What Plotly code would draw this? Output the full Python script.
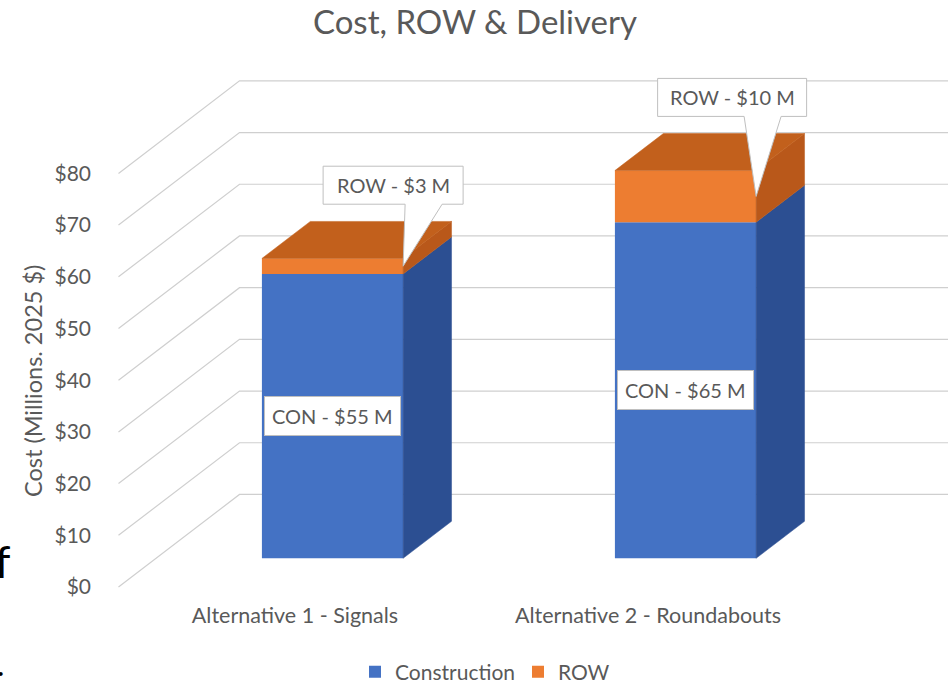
import plotly.graph_objects as go

# ---------------- data ----------------
categories = ["Alternative 1 - Signals", "Alternative 2 - Roundabouts"]
series_names = ["Construction", "ROW"]
construction = [55, 65]
row = [3, 10]
grid_values = [0, 10, 20, 30, 40, 50, 60, 70, 80]
tick_labels = ["$0", "$10", "$20", "$30", "$40", "$50", "$60", "$70", "$80"]
con_labels = ["CON - $55 M", "CON - $65 M"]
row_labels = ["ROW - $3 M", "ROW - $10 M"]

# ---------------- styling / geometry constants ----------------
W, H = 948, 683
M_L, M_R, M_T, M_B = 92, 0, 0, 83
PX_X0, PY_Y0 = 295.0, 587.0      # pixel of world origin (front plane)
PX_PER_X, PX_PER_Y = 353.0, 5.17  # pixels per unit
KX, KY = 0.3428, 17.9             # oblique offset per unit depth (x units, $)
D_FRONT, D_BACK = 0.31, 0.71      # bar depth span
HALF_W = 0.2                      # half bar width
WALL_LEFT, WALL_RIGHT = -0.5, 1.55

FONT = "Lato, Carlito, 'Open Sans', sans-serif"
TXT = "#595959"
GRID = "#CFCFCF"
C_FRONT = ["#4472C4", "#ED7D31"]
C_SIDE = ["#2C4F92", "#B9581A"]
C_TOP = "#C2601C"


def proj(x, y, d):
    return x + d * KX, y + d * KY


def px_to_dx(px):
    return px / PX_PER_X


def px_to_dy(px):
    return -px / PX_PER_Y


x_range = [(M_L - PX_X0) / PX_PER_X, (W - M_R - PX_X0) / PX_PER_X]
y_range = [(PY_Y0 - (H - M_B)) / PX_PER_Y, (PY_Y0 - M_T) / PX_PER_Y]

fig = go.Figure()

# ---------------- walls / gridlines ----------------
shapes = []
for v in grid_values:
    x0, y0 = proj(WALL_LEFT, v, 0)
    x1, y1 = proj(WALL_LEFT, v, 1)
    x2, y2 = proj(WALL_RIGHT, v, 1)
    shapes.append(dict(type="path", xref="x", yref="y", layer="below",
                       path=f"M {x0},{y0} L {x1},{y1} L {x2},{y2}",
                       line=dict(color=GRID, width=1.2)))

# ---------------- bars: front faces ----------------
stacks = [construction, row]
bases = [[0] * len(categories), construction]
for s, name in enumerate(series_names):
    xs = [proj(i, 0, D_FRONT)[0] for i in range(len(categories))]
    base = [proj(0, b, D_FRONT)[1] for b in bases[s]]
    fig.add_trace(go.Bar(
        x=xs, y=stacks[s], base=base, width=2 * HALF_W, name=name,
        marker=dict(color=C_FRONT[s], line=dict(width=0)),
        hoverinfo="skip"))

# ---------------- bars: side and top faces ----------------
for i in range(len(categories)):
    for s in range(len(series_names)):
        y0 = bases[s][i]
        y1 = y0 + stacks[s][i]
        pts = [proj(i + HALF_W, y0, D_FRONT), proj(i + HALF_W, y0, D_BACK),
               proj(i + HALF_W, y1, D_BACK), proj(i + HALF_W, y1, D_FRONT)]
        pts.append(pts[0])
        fig.add_trace(go.Scatter(
            x=[p[0] for p in pts], y=[p[1] for p in pts], mode="lines",
            fill="toself", fillcolor=C_SIDE[s], line=dict(width=0.5, color=C_SIDE[s]),
            showlegend=False, hoverinfo="skip"))
    top = construction[i] + row[i]
    pts = [proj(i - HALF_W, top, D_FRONT), proj(i - HALF_W, top, D_BACK),
           proj(i + HALF_W, top, D_BACK), proj(i + HALF_W, top, D_FRONT)]
    pts.append(pts[0])
    fig.add_trace(go.Scatter(
        x=[p[0] for p in pts], y=[p[1] for p in pts], mode="lines",
        fill="toself", fillcolor=C_TOP, line=dict(width=0.5, color=C_TOP),
        showlegend=False, hoverinfo="skip"))

annotations = []

# ---------------- CON data labels ----------------
for i in range(len(categories)):
    x, y = proj(i, construction[i] / 2, D_FRONT)
    annotations.append(dict(
        x=x, y=y, xref="x", yref="y", text=con_labels[i], showarrow=False,
        xanchor="center", yanchor="middle",
        font=dict(family=FONT, size=20, color=TXT),
        bgcolor="white", bordercolor="#BFBFBF", borderwidth=1, borderpad=7))

# ---------------- ROW callouts ----------------
callout_offsets = [(-10, -81), (-24, -99)]   # box centre relative to tip, px
callout_widths = [140, 149]
BOX_H = 38
WEDGE = (12, 49)
for i in range(len(categories)):
    tx, ty = proj(i + HALF_W, construction[i] + row[i] / 2, D_FRONT)
    cx = tx + px_to_dx(callout_offsets[i][0])
    cy = ty + px_to_dy(callout_offsets[i][1])
    hw = px_to_dx(callout_widths[i] / 2)
    hh = -px_to_dy(BOX_H / 2)
    xs = [cx - hw, cx + hw, cx + hw, cx + px_to_dx(WEDGE[1]), tx,
          cx + px_to_dx(WEDGE[0]), cx - hw, cx - hw]
    ys = [cy + hh, cy + hh, cy - hh, cy - hh, ty, cy - hh, cy - hh, cy + hh]
    fig.add_trace(go.Scatter(
        x=xs, y=ys, mode="lines", fill="toself", fillcolor="white",
        line=dict(color="#BFBFBF", width=1), showlegend=False, hoverinfo="skip"))
    annotations.append(dict(
        x=cx, y=cy, xref="x", yref="y", text=row_labels[i], showarrow=False,
        xanchor="center", yanchor="middle",
        font=dict(family=FONT, size=20, color=TXT)))

# ---------------- axis title & stray slide text ----------------
plot_w = W - M_L - M_R
plot_h = H - M_T - M_B


def paper_x(px):
    return (px - M_L) / plot_w


def paper_y(py):
    return (H - M_B - py) / plot_h


annotations.append(dict(
    x=paper_x(33), y=paper_y(381), xref="paper", yref="paper",
    xanchor="center", yanchor="middle",
    text="Cost (Millions. 2025 $)", textangle=-90, showarrow=False,
    font=dict(family=FONT, size=23.5, color=TXT)))
annotations.append(dict(
    x=paper_x(-7), y=paper_y(561), xref="paper", yref="paper",
    xanchor="left", yanchor="middle",
    text="f", showarrow=False, font=dict(family=FONT, size=44, color="black")))
annotations.append(dict(
    x=paper_x(-5), y=paper_y(676), xref="paper", yref="paper",
    xanchor="left", yanchor="middle",
    text=":", showarrow=False, font=dict(family=FONT, size=30, color="black")))

fig.update_layout(
    width=W, height=H,
    margin=dict(l=M_L, r=M_R, t=M_T, b=M_B, pad=0, autoexpand=False),
    paper_bgcolor="white", plot_bgcolor="white",
    barmode="overlay",
    title=dict(text="Cost, ROW & Delivery", x=475 / W, xanchor="center",
               y=1 - 22 / H, yanchor="middle",
               font=dict(family=FONT, size=33, color=TXT)),
    xaxis=dict(range=x_range, tickvals=[proj(i, 0, 0)[0] for i in range(len(categories))],
               ticktext=categories, showgrid=False, zeroline=False, showline=False,
               ticks="", tickfont=dict(family=FONT, size=21.5, color=TXT), fixedrange=True,
               automargin=False),
    yaxis=dict(range=y_range, tickvals=[proj(0, v, 0)[1] for v in grid_values],
               ticktext=tick_labels, showgrid=False, zeroline=False, showline=False,
               ticks="", tickfont=dict(family=FONT, size=21, color=TXT), fixedrange=True,
               automargin=False),
    legend=dict(orientation="h", x=paper_x(355), xanchor="left",
                y=paper_y(672), yanchor="middle", itemwidth=30,
                entrywidth=118, entrywidthmode="pixels",
                font=dict(family=FONT, size=21, color=TXT), traceorder="normal",
                itemclick=False, bgcolor="rgba(0,0,0,0)"),
    shapes=shapes,
    annotations=annotations,
    showlegend=True,
)

fig.write_html("out.html", config={"displayModeBar": False},
               post_script="document.body.style.margin='0px';")
